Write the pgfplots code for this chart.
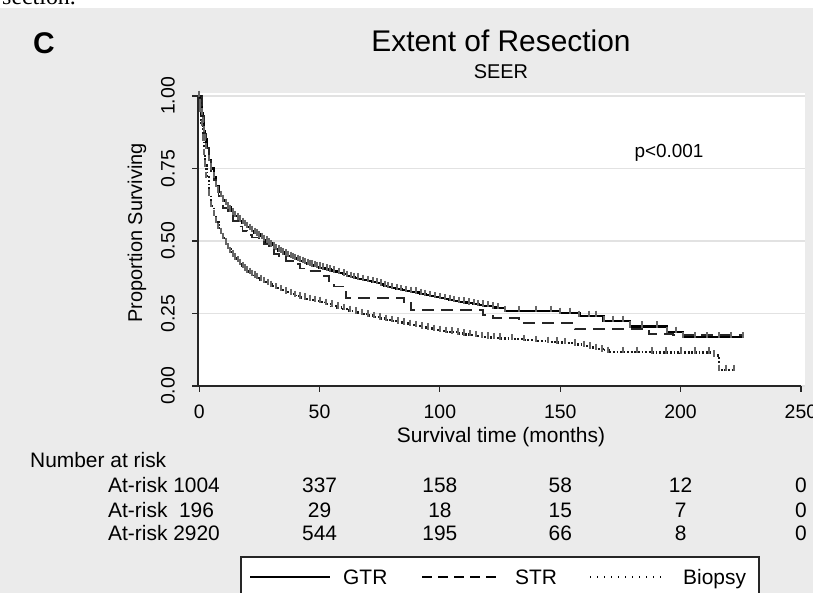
\documentclass[border=0pt]{standalone}
\usepackage{pgfplots}
\usepackage{pgfplotstable}
\pgfplotsset{compat=1.18}
\usepackage{fontspec}
\setmainfont{Liberation Sans}
\newfontfamily\seriffont{Liberation Serif}
\definecolor{bg}{HTML}{EBEBEB}
\definecolor{gridc}{HTML}{E2E2E2}
\definecolor{censor}{HTML}{666666}

\pgfplotstableread{
t s
0 1.0
0.5 0.97
1 0.94
1.5 0.91
2 0.88
2.5 0.85
3 0.82
4 0.78
5 0.75
6 0.72
7 0.69
8 0.67
9 0.655
10 0.64
11 0.627
12 0.615
13 0.605
14 0.595
15 0.586
16 0.578
17 0.57
18 0.562
19 0.555
20 0.548
21 0.541
22 0.535
23 0.528
24 0.522
25 0.516
26 0.51
27 0.504
28 0.498
29 0.491
30 0.485
31 0.478
32 0.472
33 0.467
34 0.462
35 0.457
36 0.453
37 0.449
38 0.445
39 0.441
40 0.438
41 0.435
42 0.432
43 0.428
44 0.424
45 0.421
46 0.418
47 0.415
48 0.413
49 0.41
50 0.408
51.5 0.405
53 0.402
54.5 0.398
56 0.395
58 0.39
60 0.385
61.5 0.38
63 0.376
64.5 0.373
66 0.37
68 0.366
70 0.362
72 0.358
74 0.355
75.5 0.35
77 0.345
78.5 0.341
80 0.337
82 0.334
84 0.33
86 0.328
88 0.325
90 0.322
92 0.318
94 0.314
96 0.31
98 0.306
100 0.303
102 0.3
104 0.297
106 0.293
108 0.29
110 0.288
112 0.285
114 0.282
116 0.279
118 0.277
120 0.275
122 0.271
124 0.268
127 0.258
133 0.258
140 0.258
146 0.258
150 0.252
154 0.252
158 0.242
162 0.242
165 0.242
168 0.225
172 0.225
176 0.225
179 0.205
184 0.205
190 0.205
194.5 0.187
198 0.187
201 0.168
206 0.168
211 0.168
216 0.168
221 0.168
226 0.168
}\gtr

\pgfplotstableread{
t s
0 1.0
1 0.93
2 0.87
3 0.82
4 0.78
5 0.74
6 0.71
7 0.68
8 0.655
10 0.615
12 0.59
14 0.57
16 0.55
18 0.535
20 0.52
22 0.512
25 0.505
27 0.49
29 0.475
31 0.455
33 0.445
36 0.432
39 0.42
42 0.405
45 0.398
50 0.395
52 0.38
54 0.355
56 0.343
59 0.343
61 0.303
83 0.303
85 0.29
88 0.262
116 0.262
118 0.245
122 0.235
133 0.217
156 0.197
187 0.18
197 0.175
226 0.175
}\str

\pgfplotstableread{
t s
0 1.0
0.5 0.95
1 0.9
1.5 0.85
2 0.8
2.5 0.76
3 0.72
4 0.66
5 0.62
6 0.59
7 0.565
8 0.545
9 0.527
10 0.51
11 0.492
12 0.475
13 0.462
14 0.45
15 0.44
16 0.43
17 0.42
18 0.41
19 0.402
20 0.395
21 0.389
22 0.383
23 0.377
24 0.372
25.5 0.365
27 0.358
28.5 0.351
30 0.345
32 0.337
34 0.33
36 0.323
38 0.317
40 0.311
42 0.305
44 0.301
46 0.297
48 0.293
50 0.29
52.5 0.283
55 0.277
57.5 0.271
60 0.265
62.5 0.259
65 0.253
67.5 0.248
70 0.243
72.5 0.238
75 0.233
77.5 0.228
80 0.224
82.5 0.219
85 0.215
87.5 0.211
90 0.207
92.5 0.202
95 0.198
97.5 0.194
100 0.19
102.5 0.187
105 0.185
107.5 0.181
110 0.178
112.5 0.175
115 0.172
117.5 0.169
120 0.167
122.5 0.165
125 0.164
130 0.161
135 0.158
140 0.155
145 0.152
148.5 0.15
152 0.148
156 0.143
160 0.138
162.5 0.133
165 0.128
167.5 0.123
170 0.118
176 0.117
182 0.117
188 0.116
194 0.116
200 0.115
206 0.115
212 0.115
214 0.105
216 0.055
219 0.055
222 0.055
}\bio

\begin{document}
\begin{tikzpicture}[x=1bp,y=1bp]
\useasboundingbox (0,0) rectangle (813,593);
\fill[bg] (0,0) rectangle (813,593);
\fill[white] (0,585) rectangle (813,593);
\node[font=\seriffont\fontsize{24}{26}\selectfont, anchor=base west, inner sep=0] at (2,588) {section.};

\begin{axis}[
  at={(198bp,207bp)}, anchor=south west,
  scale only axis, width=607bp, height=293bp,
  xmin=-0.5, xmax=251.7, ymin=0, ymax=1.0103,
  clip=false,
  axis background/.style={fill=white},
  axis line style={draw=none},
  xtick={0,50,100,150,200,250},
  xticklabels={0,50,100,150,200,250},
  ytick={0,0.25,0.5,0.75,1},
  yticklabels={0.00,0.25,0.50,0.75,1.00},
  xtick pos=left, ytick pos=left,
  tick align=outside,
  major tick length=6bp,
  tick style={black!85, line width=1.2bp},
  ymajorgrids,
  grid style={gridc, line width=1.5bp},
  xticklabel style={font=\fontsize{19.5}{21}\selectfont, inner sep=0pt, yshift=-13bp},
  yticklabel style={font=\fontsize{19.5}{21}\selectfont, xshift=-17bp, rotate=90, anchor=south, inner sep=0pt},
]
\addplot[const plot, draw=black, line width=2.3bp, mark=|, mark size=3.2bp,
  mark options={solid, draw=censor, line width=2bp, yshift=2bp}] table[x=t,y=s] {\gtr};
\addplot[const plot, draw=black!85, line width=1.9bp, dash pattern=on 12bp off 7bp] table[x=t,y=s] {\str};
\addplot[const plot, draw=black!90, line width=2.3bp, dash pattern=on 1.8bp off 1.8bp, mark=|, mark size=3.2bp,
  mark options={solid, draw=censor, line width=2bp, yshift=2bp}] table[x=t,y=s] {\bio};
\draw[black!85, line width=1.3bp] (axis cs:-0.5,0) -- (axis cs:250,0);
\draw[black!85, line width=1.3bp] (axis cs:-0.5,0) -- (axis cs:-0.5,1);
\end{axis}

% titles and labels
\node[font=\bfseries\fontsize{30}{32}\selectfont] at (44,550) {C};
\node[font=\fontsize{30}{32}\selectfont] at (501,552) {Extent of Resection};
\node[font=\fontsize{20}{22}\selectfont] at (501,521) {SEER};
\node[font=\fontsize{19}{21}\selectfont] at (669,440) {p<0.001};
\node[font=\fontsize{21}{23}\selectfont] at (501,156) {Survival time (months)};
\node[font=\fontsize{20}{22}\selectfont, rotate=90] at (137,360) {Proportion Surviving};

% risk table
\begin{scope}[every node/.style={font=\fontsize{21}{23}\selectfont, inner sep=0pt}]
\node[anchor=base west] at (30,125.5) {Number at risk};
\node[anchor=base west] at (108,100.5) {At-risk 1004};
\node[anchor=base west] at (108,75.5) {At-risk\ \ 196};
\node[anchor=base west] at (108,52.5) {At-risk 2920};
\foreach \x/\a/\b/\c in {319.6/337/29/544, 439.9/158/18/195, 560.3/58/15/66, 680.6/12/7/8, 800.9/0/0/0}{
  \node[anchor=base] at (\x,100.5) {\a};
  \node[anchor=base] at (\x,75.5) {\b};
  \node[anchor=base] at (\x,52.5) {\c};
}
\end{scope}

% legend
\draw[fill=white, draw=black!85, line width=1.2bp] (241,-20) rectangle (759,36);
\draw[black, line width=1.4bp] (250,16) -- (330,16);
\draw[black, line width=1.4bp, dash pattern=on 10bp off 6bp] (422,16) -- (500,16);
\draw[black, line width=1.5bp, dash pattern=on 1.4bp off 5.6bp] (590,16) -- (667,16);
\begin{scope}[every node/.style={font=\fontsize{21}{23}\selectfont, inner sep=0pt, anchor=base west}]
\node at (343,8.5) {GTR};
\node at (515,8.5) {STR};
\node at (683,8.5) {Biopsy};
\end{scope}
\end{tikzpicture}
\end{document}
